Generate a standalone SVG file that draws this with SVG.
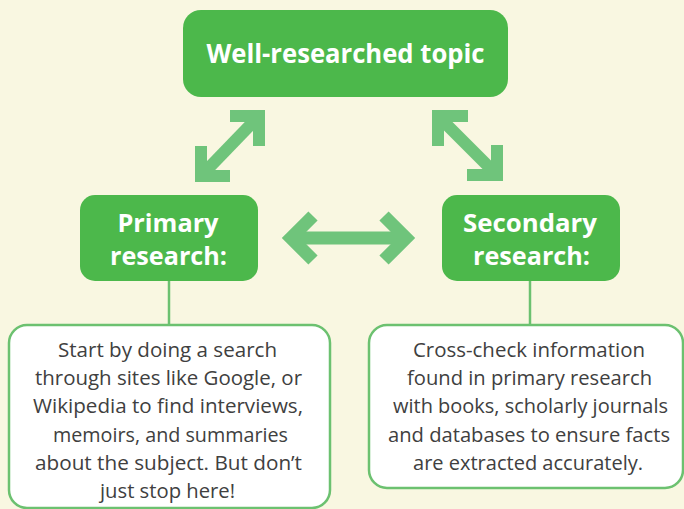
<svg xmlns="http://www.w3.org/2000/svg" width="684" height="509" viewBox="0 0 684 509">
<style>
.box{fill:#4cb84b}
.head{fill:#fff;font-family:"Open Sans","Noto Sans",sans-serif;font-weight:bold;text-anchor:middle}
.card{fill:#fff;stroke:#6cc170;stroke-width:2.5}
.body{fill:#404040;font-family:"Open Sans","Noto Sans",sans-serif;font-size:20px;text-anchor:middle}
.arr{fill:none;stroke:#6fc47b;stroke-width:12;stroke-linejoin:miter;stroke-linecap:butt}
.stem{stroke:#6cc170;stroke-width:2.5}
</style>
<rect width="684" height="509" fill="#f9f7e1"/>
<g id="connectors">
<line class="stem" x1="169" y1="281" x2="169" y2="325"/>
<line class="stem" x1="530" y1="281" x2="530" y2="325"/>
<polyline class="arr" points="201,176 259,116"/>
<polyline class="arr" points="230,116 259,116 259,146"/>
<polyline class="arr" points="201,146 201,176 230,176"/>
<polyline class="arr" points="438,116 497,175"/>
<polyline class="arr" points="468,116 438,116 438,146"/>
<polyline class="arr" points="497,145 497,175 467,175"/>
<polyline class="arr" style="stroke-width:13" points="291,238 406,238"/>
<polyline class="arr" style="stroke-width:13" points="313,216 291,238 313,260"/>
<polyline class="arr" style="stroke-width:13" points="384,216 406,238 384,260"/>
</g>
<g id="topic">
<rect class="box" x="183" y="10" width="325" height="87" rx="18"/>
<text class="head" x="345.5" y="63" font-size="27.5" textLength="278" lengthAdjust="spacingAndGlyphs">Well-researched topic</text>
</g>
<g id="primary">
<rect class="box" x="80" y="195" width="178" height="86" rx="15"/>
<text class="head" x="168" y="232" font-size="25" textLength="101" lengthAdjust="spacingAndGlyphs">Primary</text>
<text class="head" x="168.5" y="265" font-size="25" textLength="117" lengthAdjust="spacingAndGlyphs">research:</text>
</g>
<g id="secondary">
<rect class="box" x="442" y="195" width="178" height="86" rx="15"/>
<text class="head" x="530" y="232" font-size="25" textLength="134" lengthAdjust="spacingAndGlyphs">Secondary</text>
<text class="head" x="531.5" y="265" font-size="25" textLength="117" lengthAdjust="spacingAndGlyphs">research:</text>
</g>
<g id="primary-note">
<rect class="card" x="9" y="325" width="321" height="183" rx="18"/>
<text class="body" x="167.5" y="357" textLength="219" lengthAdjust="spacingAndGlyphs">Start by doing a search</text>
<text class="body" x="168.5" y="385" textLength="267" lengthAdjust="spacingAndGlyphs">through sites like Google, or</text>
<text class="body" x="168" y="413" textLength="270" lengthAdjust="spacingAndGlyphs">Wikipedia to find interviews,</text>
<text class="body" x="170.5" y="442" textLength="235" lengthAdjust="spacingAndGlyphs">memoirs, and summaries</text>
<text class="body" x="168.5" y="470" textLength="267" lengthAdjust="spacingAndGlyphs">about the subject. But don’t</text>
<text class="body" x="167.5" y="498" textLength="135" lengthAdjust="spacingAndGlyphs">just stop here!</text>
</g>
<g id="secondary-note">
<rect class="card" x="369" y="325" width="314" height="163" rx="18"/>
<text class="body" x="529" y="357" textLength="232" lengthAdjust="spacingAndGlyphs">Cross-check information</text>
<text class="body" x="529.5" y="385" textLength="245" lengthAdjust="spacingAndGlyphs">found in primary research</text>
<text class="body" x="530.5" y="413" textLength="275" lengthAdjust="spacingAndGlyphs">with books, scholarly journals</text>
<text class="body" x="529" y="442" textLength="282" lengthAdjust="spacingAndGlyphs">and databases to ensure facts</text>
<text class="body" x="528" y="470" textLength="230" lengthAdjust="spacingAndGlyphs">are extracted accurately.</text>
</g>
</svg>
